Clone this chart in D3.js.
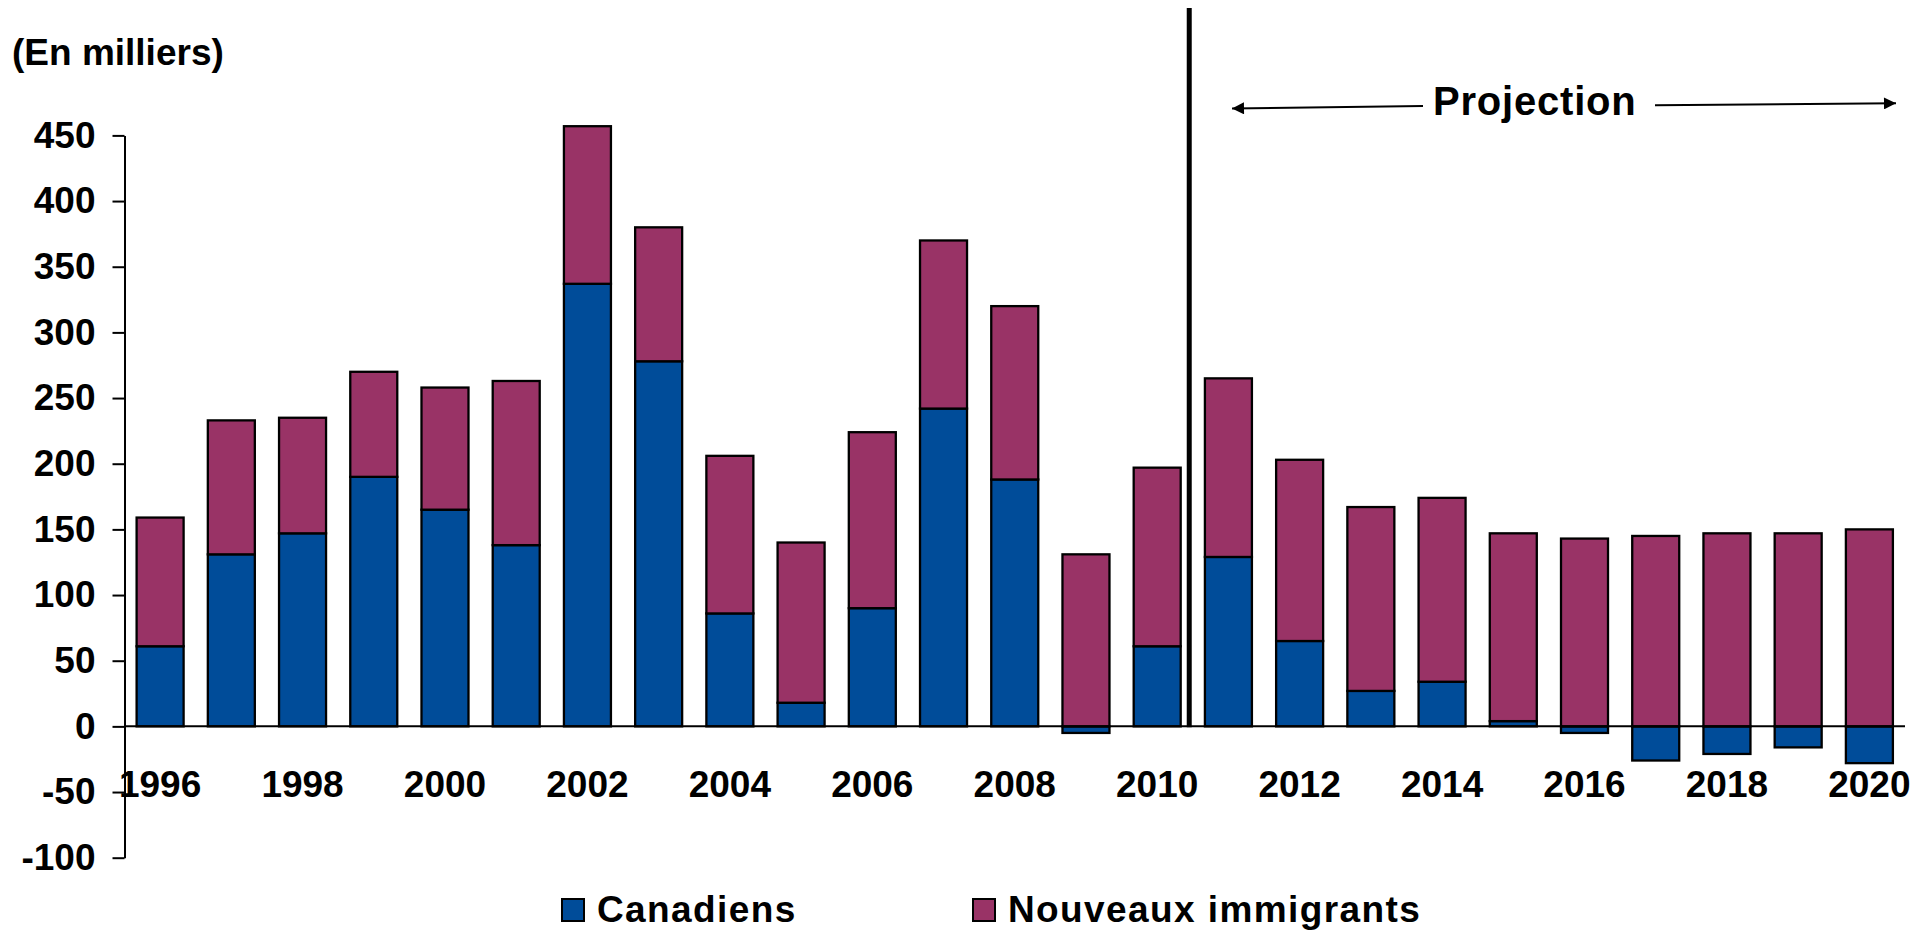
<!DOCTYPE html>
<html>
<head>
<meta charset="utf-8">
<script src="https://cdn.jsdelivr.net/npm/d3@7"></script>
<style>
body { margin: 0; background: #fff; }
text { font-family: "Liberation Sans", Arial, sans-serif; font-weight: bold; fill: #000; }
</style>
</head>
<body>
<div id="chart"></div>
<script>
// data (thousands)
var years = [1996, 1997, 1998, 1999, 2000, 2001, 2002, 2003, 2004, 2005, 2006, 2007, 2008,
             2009, 2010, 2011, 2012, 2013, 2014, 2015, 2016, 2017, 2018, 2019, 2020];
var canadiens = [61, 131, 147, 190, 165, 138, 337, 278, 86, 18, 90, 242, 188,
                 -5, 61, 129, 65, 27, 34, 4, -5, -26, -21, -16, -28];
var immigrants = [98, 102, 88, 80, 93, 125, 120, 102, 120, 122, 134, 128, 132,
                  131, 136, 136, 138, 140, 140, 143, 143, 145, 147, 147, 150];
var yTicks = [-100, -50, 0, 50, 100, 150, 200, 250, 300, 350, 400, 450];
var yearLabels = [1996, 1998, 2000, 2002, 2004, 2006, 2008, 2010, 2012, 2014, 2016, 2018, 2020];
var seriesNames = ["Canadiens", "Nouveaux immigrants"];
var colors = ["#004c99", "#993366"];

var width = 1929, height = 931;

var table = years.map(function (yr, i) {
	return { year: yr, c: canadiens[i], n: immigrants[i] };
});

var svg = d3.select("#chart").append("svg")
	.attr("width", width)
	.attr("height", height);

var x = d3.scaleBand()
	.domain(years)
	.range([124.5, 1905])
	.paddingInner(0.34)
	.paddingOuter(0.17);

var y = d3.scaleLinear()
	.domain([-100, 450])
	.range([857.7, 135.4]);

// stacked bars, negatives go below zero
var stack = d3.stack()
	.keys(["c", "n"])
	.offset(d3.stackOffsetDiverging);
var layers = stack(table);

svg.append("g").selectAll("g")
	.data(layers)
	.join("g")
	.attr("fill", function (d, i) { return colors[i]; })
	.selectAll("rect")
	.data(function (d) { return d; })
	.join("rect")
		.attr("x", function (d) { return x(d.data.year); })
		.attr("width", x.bandwidth())
		.attr("y", function (d) { return y(Math.max(d[0], d[1])); })
		.attr("height", function (d) { return Math.abs(y(d[0]) - y(d[1])); })
		.attr("stroke", "#000")
		.attr("stroke-width", 2.3);

// y axis (plain hyphen for negatives, like the original)
var yAxis = svg.append("g")
	.attr("transform", "translate(124.5,0)")
	.call(d3.axisLeft(y).tickValues(yTicks).tickSize(12).tickSizeOuter(0).tickPadding(17)
		.tickFormat(function (d) { return String(d); }));
yAxis.select(".domain").attr("stroke", "#000").attr("stroke-width", 2);
yAxis.selectAll(".tick line").attr("stroke", "#000").attr("stroke-width", 2);
yAxis.selectAll("text")
	.attr("font-size", 37)
	.attr("font-family", null)
	.attr("fill", "#000");

// zero line
svg.append("line")
	.attr("x1", 124.5).attr("x2", 1905)
	.attr("y1", y(0)).attr("y2", y(0))
	.attr("stroke", "#000")
	.attr("stroke-width", 2);

// year labels
svg.append("g").selectAll("text")
	.data(yearLabels)
	.join("text")
	.attr("x", function (d) { return x(d) + x.bandwidth() / 2; })
	.attr("y", 797)
	.attr("text-anchor", "middle")
	.attr("font-size", 37)
	.text(function (d) { return d; });

// unit label
svg.append("text")
	.attr("x", 12)
	.attr("y", 65)
	.attr("font-size", 37)
	.text("(En milliers)");

// projection divider
var divX = x(2010) + x.step() * 0.78;
svg.append("line")
	.attr("x1", divX).attr("x2", divX)
	.attr("y1", 8).attr("y2", y(0) + 1)
	.attr("stroke", "#000")
	.attr("stroke-width", 5);

// projection arrows
svg.append("defs").append("marker")
	.attr("id", "head")
	.attr("viewBox", "0 0 10 10")
	.attr("refX", 10).attr("refY", 5)
	.attr("markerWidth", 13).attr("markerHeight", 12)
	.attr("markerUnits", "userSpaceOnUse")
	.attr("orient", "auto")
	.append("path")
	.attr("d", "M0,0L10,5L0,10Z")
	.attr("fill", "#000");

svg.append("line")
	.attr("x1", 1423).attr("y1", 106)
	.attr("x2", 1232).attr("y2", 108.5)
	.attr("stroke", "#000").attr("stroke-width", 2)
	.attr("marker-end", "url(#head)");
svg.append("line")
	.attr("x1", 1655).attr("y1", 105.3)
	.attr("x2", 1896).attr("y2", 103.3)
	.attr("stroke", "#000").attr("stroke-width", 2)
	.attr("marker-end", "url(#head)");
svg.append("text")
	.attr("x", 1433)
	.attr("y", 115)
	.attr("font-size", 40)
	.attr("letter-spacing", 0.8)
	.text("Projection");

// legend
var legendX = [562, 973];
var legend = svg.append("g").selectAll("g")
	.data(seriesNames)
	.join("g")
	.attr("transform", function (d, i) { return "translate(" + legendX[i] + ",899)"; });
legend.append("rect")
	.attr("width", 22).attr("height", 22)
	.attr("fill", function (d, i) { return colors[i]; })
	.attr("stroke", "#000")
	.attr("stroke-width", 2);
legend.append("text")
	.attr("x", 35)
	.attr("y", 22.5)
	.attr("font-size", 37)
	.attr("letter-spacing", 1.4)
	.text(function (d) { return d; });
</script>
</body>
</html>
